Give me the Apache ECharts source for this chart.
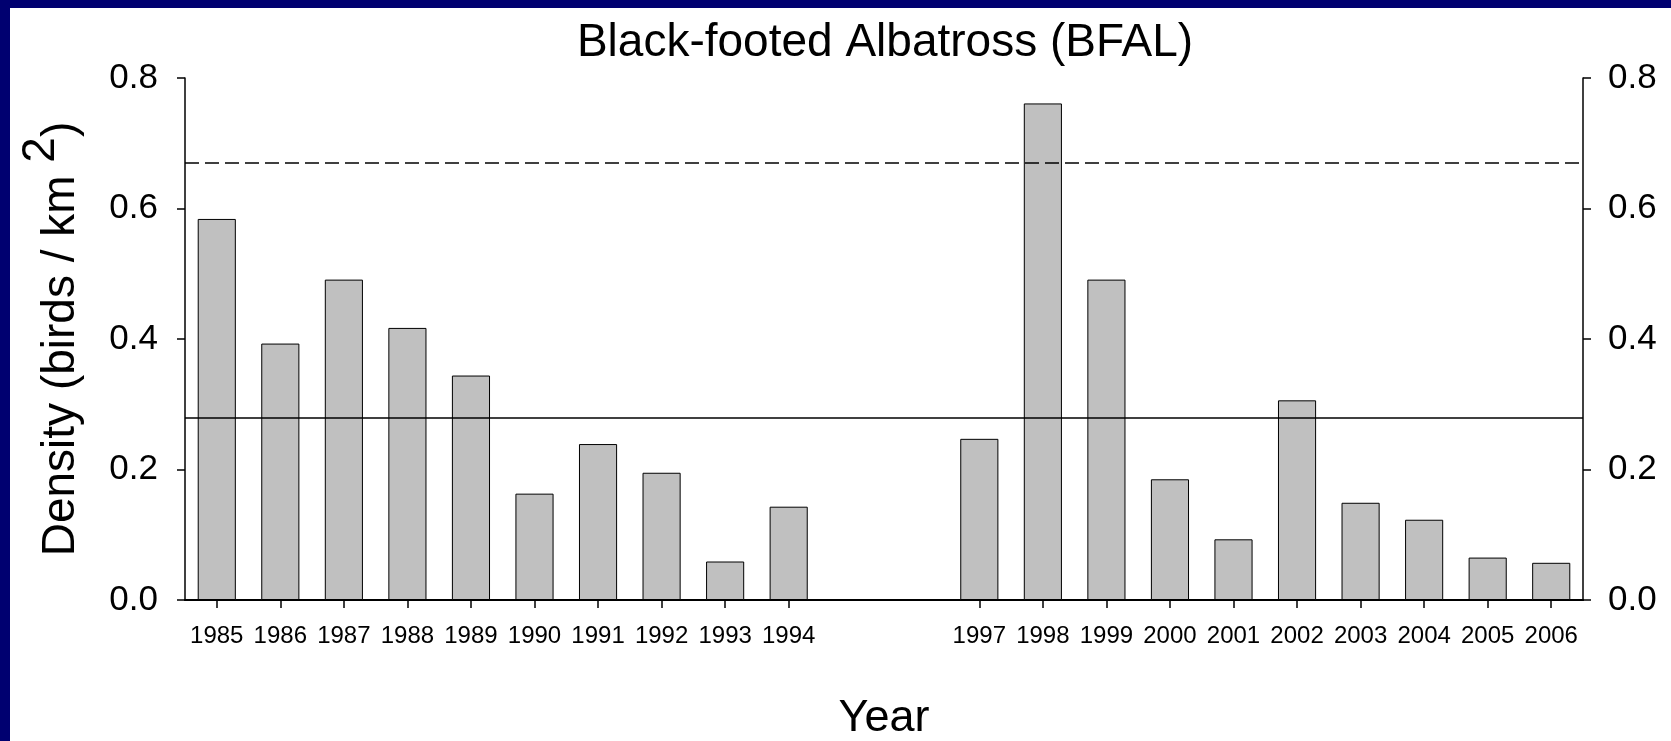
<!DOCTYPE html>
<html>
<head>
<meta charset="utf-8">
<script src="https://cdn.jsdelivr.net/npm/echarts@6/dist/echarts.min.js"></script>
<style>
html,body{margin:0;padding:0;background:#fff;}
#chart{width:1671px;height:741px;}
</style>
</head>
<body>
<div id="chart"></div>
<script>
const years = ['1985','1986','1987','1988','1989','1990','1991','1992','1993','1994','1995','1996','1997','1998','1999','2000','2001','2002','2003','2004','2005','2006'];
const density = [0.584,0.393,0.491,0.417,0.344,0.163,0.239,0.195,0.059,0.143,null,null,0.247,0.761,0.491,0.185,0.093,0.306,0.149,0.123,0.065,0.057];
const missingYears = ['1995','1996'];
const longTermMean = 0.276;
const upperReference = 0.666;
const yTicks = [0, 0.2, 0.4, 0.6, 0.8];

const FONT = "'Liberation Sans', Arial, sans-serif";
const chart = echarts.init(document.getElementById('chart'), null, {renderer:'canvas'});

function yAxisCommon(margin) {
  return {
    type: 'value', min: yTicks[0], max: yTicks[yTicks.length-1], interval: 0.2,
    axisLine: {show: true, lineStyle: {color: '#000', width: 1.5}},
    axisTick: {show: true, inside: false, length: 8, lineStyle: {color: '#000', width: 1.5}},
    splitLine: {show: false},
    axisLabel: {color: '#000', fontSize: 35, fontFamily: FONT, margin: margin, formatter: v => v.toFixed(1)}
  };
}

chart.setOption({
  backgroundColor: '#fff',
  animation: false,
  title: {
    text: 'Black-footed Albatross (BFAL)',
    left: 880, top: 15, textAlign: 'center',
    textStyle: {color: '#000', fontSize: 46, fontWeight: 'normal', fontFamily: FONT}
  },
  grid: {left: 185, right: 88, top: 78, bottom: 141, containLabel: false, outerBoundsMode: 'none'},
  xAxis: [{
    type: 'category', data: years, boundaryGap: true,
    axisLine: {show: true, lineStyle: {color: '#000', width: 2}},
    axisTick: {show: true, alignWithLabel: true, length: 8, lineStyle: {color: '#000', width: 1.5},
      interval: (i, v) => missingYears.indexOf(v) < 0},
    axisLabel: {color: '#000', fontSize: 24, fontFamily: FONT, margin: 24, interval: 0,
      formatter: v => missingYears.indexOf(v) < 0 ? v : ''},
    name: 'Year', nameLocation: 'middle', nameGap: 96,
    nameTextStyle: {color: '#000', fontSize: 45, fontFamily: FONT}
  }, {
    type: 'category', data: years, position: 'top',
    axisLine: {show: true, lineStyle: {color: '#000', width: 1.5}},
    axisTick: {show: false}, axisLabel: {show: false}
  }],
  yAxis: [Object.assign(yAxisCommon(27), {
    position: 'left',
    name: '{n|Density (birds / km }{s|2}{n|)}',
    nameLocation: 'middle', nameGap: 101, nameRotate: 90,
    nameTextStyle: {
      color: '#000', fontFamily: FONT,
      rich: {
        n: {fontSize: 46, fontFamily: FONT, color: '#000', lineHeight: 46, verticalAlign: 'bottom'},
        s: {fontSize: 46, fontFamily: FONT, color: '#000', lineHeight: 66, verticalAlign: 'top'}
      }
    }
  }), Object.assign(yAxisCommon(25), {position: 'right'})],
  series: [{
    type: 'bar', data: density, barWidth: '60%',
    itemStyle: {color: '#c0c0c0', borderColor: '#000', borderWidth: 1},
    markLine: {
      silent: true, symbol: ['none','none'], label: {show: false},
      data: [
        {yAxis: upperReference, lineStyle: {type: [14,6], color: '#000', width: 1.5}},
        {yAxis: longTermMean, lineStyle: {type: 'solid', color: '#000', width: 1.5}}
      ]
    }
  }],
  graphic: [
    {type: 'rect', left: 0, top: 0, shape: {width: 1671, height: 8}, style: {fill: '#000070'}},
    {type: 'rect', left: 0, top: 0, shape: {width: 10, height: 741}, style: {fill: '#000070'}}
  ]
});
</script>
</body>
</html>
